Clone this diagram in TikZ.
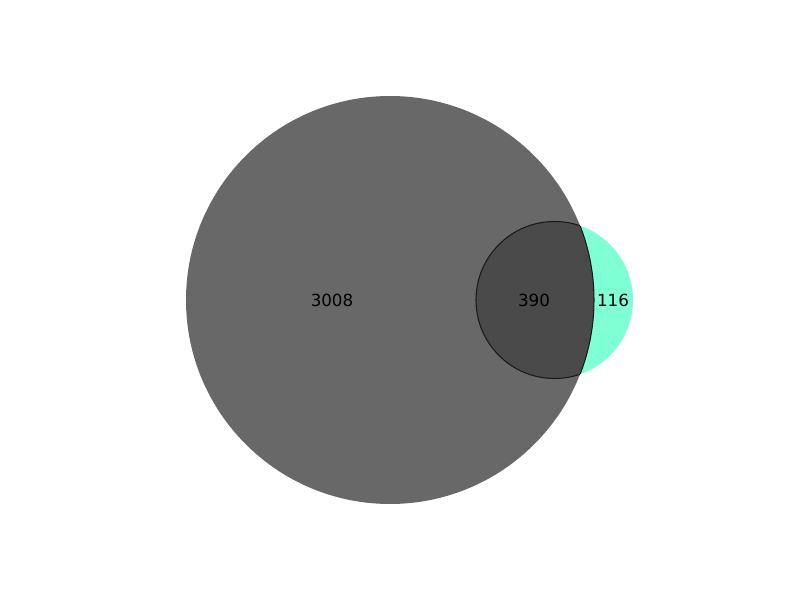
\documentclass[tikz,border=0pt]{standalone}
\usepackage{fontspec}
\setmainfont{DejaVu Sans}
\usepackage{tikz,xcolor}
\usetikzlibrary{positioning}

\definecolor{vennA}{HTML}{686868}
\definecolor{vennB}{HTML}{7FFFD4}
\definecolor{vennAB}{HTML}{4A4A4A}

\begin{document}
\begin{tikzpicture}[x=0.2mm,y=-0.2mm,
    count/.style={font=\fontsize{9.5}{11}\selectfont, inner sep=0pt}]
      \useasboundingbox (0,0) rectangle (800,600);

      % Conjuntos
      \coordinate (ca) at (390,300);
      \coordinate (cb) at (554.5,300);
      \fill[vennB] (cb) circle (78.5);
      \fill[vennA] (ca) circle (204);

      % Intersecao
      \begin{scope}
        \clip (ca) circle (204);
        \fill[vennAB] (cb) circle (78.5);
        \draw[line width=0.6pt, black!90] (cb) circle (78.5);
      \end{scope}
      \begin{scope}
        \clip (cb) circle (78.5);
        \draw[line width=0.6pt, black!90] (ca) circle (204);
      \end{scope}

      % Rotulos
      \node[count] (nA) at (332,300) {3008};
      \node[count] (nAB) at (534,300) {390};
      \node[count] (nB) at (613,300) {116};
\end{tikzpicture}
\end{document}
